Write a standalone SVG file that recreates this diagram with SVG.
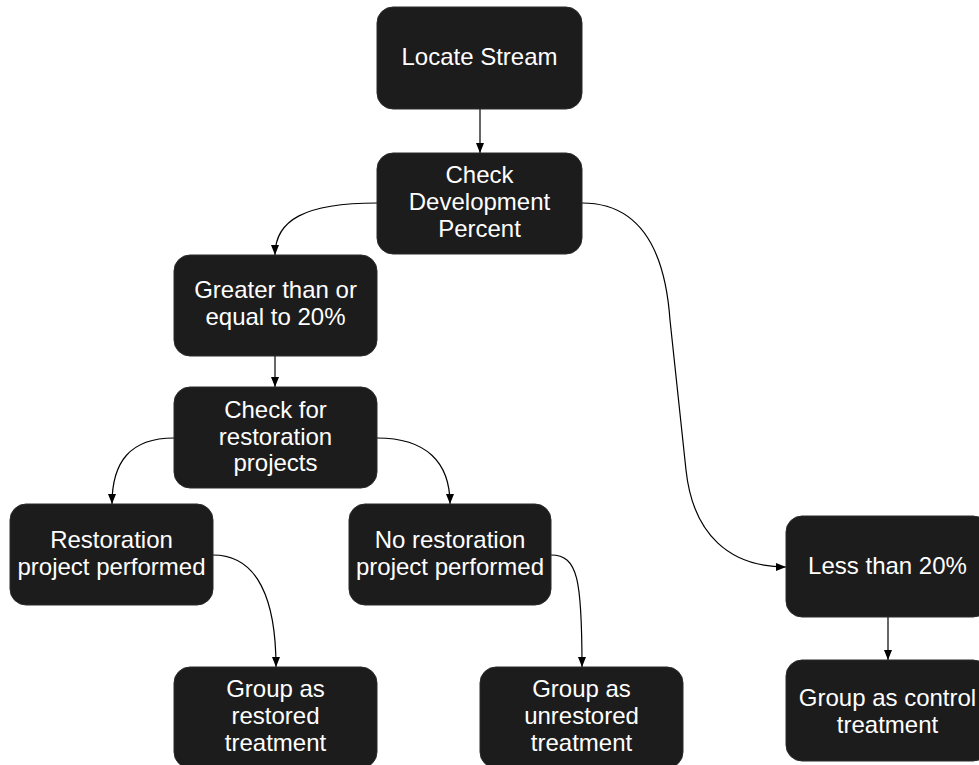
<svg xmlns="http://www.w3.org/2000/svg" width="979" height="765" viewBox="0 0 979 765">
<style>
.box{fill:#1c1c1c;stroke:#2a2a2a;stroke-width:1}
.t{font-family:"Liberation Sans",Arial,sans-serif;font-size:24px;fill:#ffffff;text-anchor:middle}
.c{fill:none;stroke:#000;stroke-width:1.2}
</style>
<defs>
<marker id="ah" viewBox="0 0 10 8" refX="10" refY="4" markerWidth="10" markerHeight="8" markerUnits="userSpaceOnUse" orient="auto">
<path d="M0,0 L10,4 L0,8 Z" fill="#000"/>
</marker>
</defs>
<rect width="979" height="765" fill="#fff"/>
<g id="connectors">
<path class="c" d="M480,109 L480,153" marker-end="url(#ah)"/>
<path class="c" d="M377,203 C305,203 275,220 275,255" marker-end="url(#ah)"/>
<path class="c" d="M582,203 C640,203 665,250 670,320 L686,470 C693,535 730,567 786,567" marker-end="url(#ah)"/>
<path class="c" d="M275,356 L275,387" marker-end="url(#ah)"/>
<path class="c" d="M174,438 C130,438 112,462 112,504" marker-end="url(#ah)"/>
<path class="c" d="M377,438 C426,438 450,462 450,504" marker-end="url(#ah)"/>
<path class="c" d="M213,555 C258,555 276,600 276,667" marker-end="url(#ah)"/>
<path class="c" d="M551,555 C578,555 582,580 582,667" marker-end="url(#ah)"/>
<path class="c" d="M888,617 L888,660" marker-end="url(#ah)"/>
</g>
<g id="locate">
<rect class="box" x="377" y="7" width="205" height="102" rx="16"/>
<text class="t" x="479.5" y="65">Locate Stream</text>
</g>
<g id="checkdev">
<rect class="box" x="377" y="153" width="205" height="101" rx="16"/>
<text class="t" x="479.5" y="183">Check</text>
<text class="t" x="479.5" y="210">Development</text>
<text class="t" x="479.5" y="237">Percent</text>
</g>
<g id="greater">
<rect class="box" x="174" y="255" width="203" height="101" rx="16"/>
<text class="t" x="275.5" y="298">Greater than or</text>
<text class="t" x="275.5" y="325">equal to 20%</text>
</g>
<g id="checkrest">
<rect class="box" x="174" y="387" width="203" height="101" rx="16"/>
<text class="t" x="275.5" y="418">Check for</text>
<text class="t" x="275.5" y="445">restoration</text>
<text class="t" x="275.5" y="471">projects</text>
</g>
<g id="restored">
<rect class="box" x="10" y="504" width="203" height="101" rx="16"/>
<text class="t" x="111.5" y="548">Restoration</text>
<text class="t" x="111.5" y="575">project performed</text>
</g>
<g id="norestore">
<rect class="box" x="349" y="504" width="202" height="101" rx="16"/>
<text class="t" x="450" y="548">No restoration</text>
<text class="t" x="450" y="575">project performed</text>
</g>
<g id="less">
<rect class="box" x="786" y="516" width="203" height="101" rx="16"/>
<text class="t" x="887.5" y="574">Less than 20%</text>
</g>
<g id="grouprestored">
<rect class="box" x="174" y="667" width="203" height="101" rx="16"/>
<text class="t" x="275.5" y="697">Group as</text>
<text class="t" x="275.5" y="724">restored</text>
<text class="t" x="275.5" y="751">treatment</text>
</g>
<g id="groupunrestored">
<rect class="box" x="480" y="667" width="203" height="101" rx="16"/>
<text class="t" x="581.5" y="697">Group as</text>
<text class="t" x="581.5" y="724">unrestored</text>
<text class="t" x="581.5" y="751">treatment</text>
</g>
<g id="groupcontrol">
<rect class="box" x="786" y="660" width="203" height="101" rx="16"/>
<text class="t" x="887.5" y="706">Group as control</text>
<text class="t" x="887.5" y="733">treatment</text>
</g>
</svg>
